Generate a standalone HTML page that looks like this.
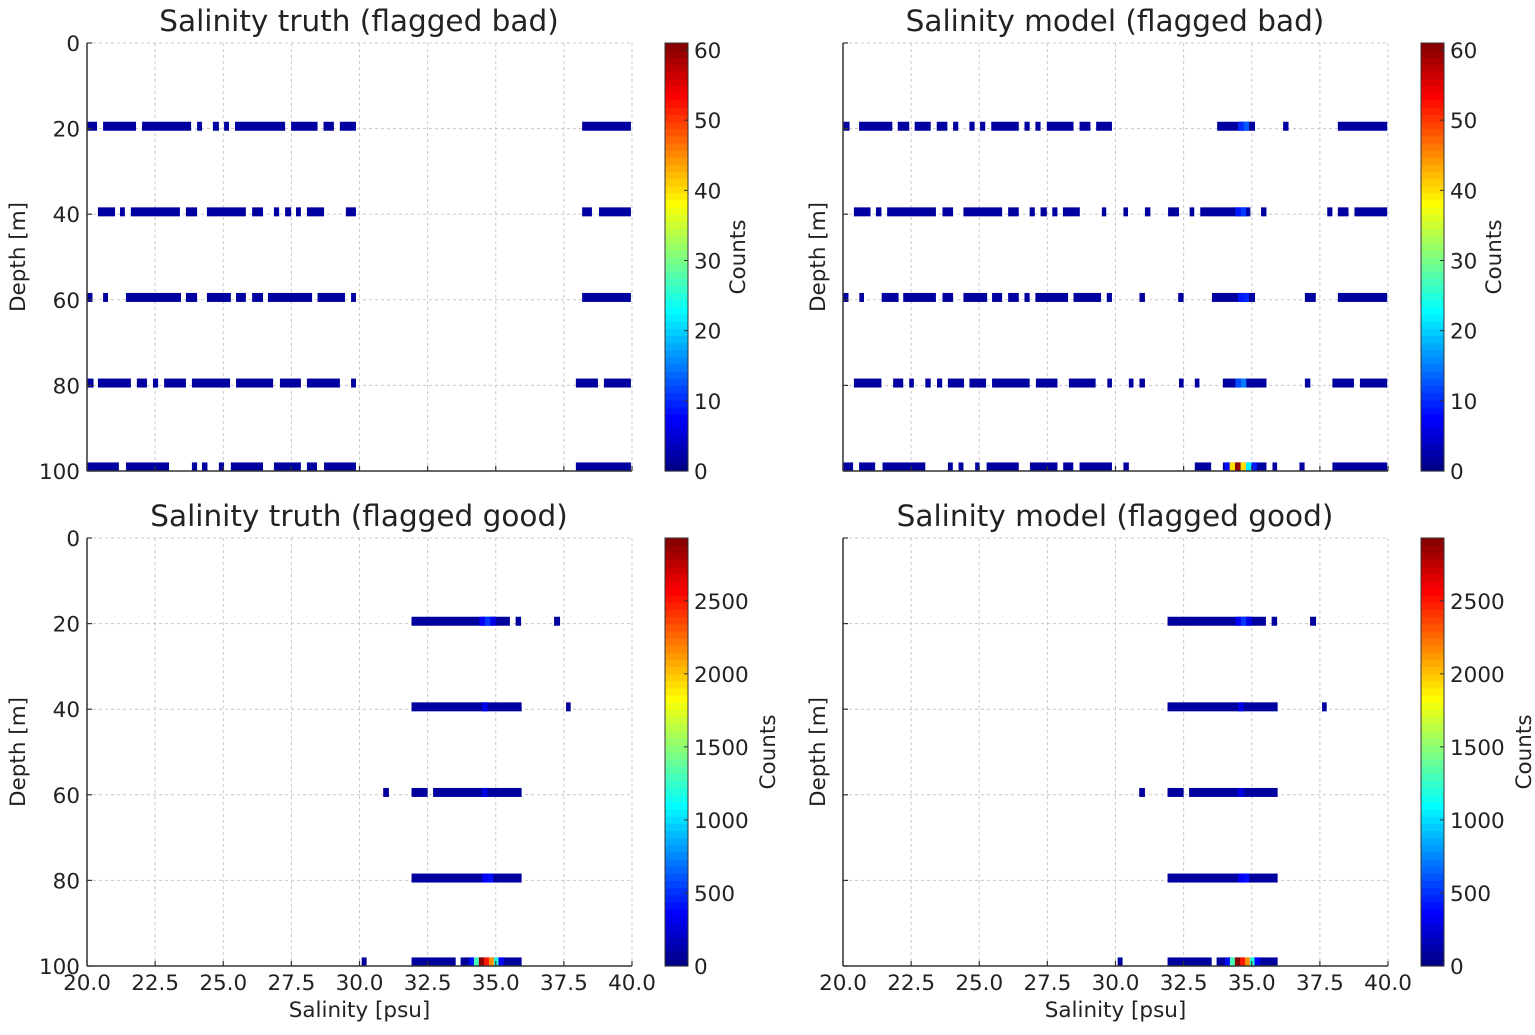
<!DOCTYPE html>
<html><head><meta charset="utf-8"><style>
html,body{margin:0;padding:0;background:#fff;}
svg{display:block;font-family:"DejaVu Sans","Liberation Sans",sans-serif;fill:#222;}
</style></head><body>
<svg id="chart" width="1535" height="1035" viewBox="0 0 1535 1035" xmlns="http://www.w3.org/2000/svg"></svg>
<script>
// ---- data ----
const depths = [20, 40, 60, 80, 100];
const xTicks = [20.0, 22.5, 25.0, 27.5, 30.0, 32.5, 35.0, 37.5, 40.0];
const yTicks = [0, 20, 40, 60, 80, 100];
const cbTicksBad = [0, 10, 20, 30, 40, 50, 60];
const cbTicksGood = [0, 500, 1000, 1500, 2000, 2500];
const cbMaxBad = 61;
const cbMaxGood = 2930;
const baseBad = 2;
const baseGood = 90;

const truthBadSegs = [
  [[20.0,20.37],[20.59,21.8],[22.02,23.82],[24.04,24.22],[24.62,24.84],[25.03,25.21],[25.43,27.27],[27.49,28.46],[28.68,29.06],[29.28,29.87],[38.17,39.96]],
  [[20.40,21.03],[21.21,21.39],[21.61,23.41],[23.63,24.04],[24.40,25.83],[26.06,26.46],[26.86,27.05],[27.27,27.49],[27.67,27.85],[28.07,28.70],[29.50,29.87],[38.17,38.53],[38.79,39.96]],
  [[20.0,20.2],[20.59,20.77],[21.43,23.45],[23.63,24.04],[24.40,25.28],[25.47,25.83],[26.06,26.46],[26.64,28.26],[28.46,29.47],[29.69,29.87],[38.17,39.96]],
  [[20.0,20.24],[20.40,21.61],[21.83,22.20],[22.42,22.61],[22.83,23.63],[23.85,25.25],[25.47,26.83],[27.08,27.85],[28.07,29.28],[29.69,29.87],[37.94,38.75],[38.97,39.96]],
  [[20.0,21.17],[21.43,23.01],[23.85,24.04],[24.22,24.42],[24.84,25.03],[25.28,26.46],[26.86,27.85],[28.07,28.44],[28.70,29.87],[37.94,39.96]]
];
const modelBadSegs = [
  [[20.0,20.24],[20.59,21.81],[22.01,22.43],[22.63,23.22],[23.44,23.83],[24.04,24.23],[24.64,24.83],[25.03,25.22],[25.44,26.45],[26.66,26.85],[27.06,27.25],[27.48,28.46],[28.68,29.08],[29.29,29.87],[33.73,35.12],[36.15,36.35],[38.16,39.97]],
  [[20.4,21.01],[21.21,21.41],[21.62,23.41],[23.65,24.04],[24.42,25.84],[26.06,26.45],[26.85,27.04],[27.25,27.48],[27.68,27.87],[28.07,28.69],[29.5,29.66],[30.29,30.46],[31.08,31.28],[31.93,32.33],[32.72,32.89],[33.11,34.95],[35.34,35.54],[37.77,37.96],[38.16,38.55],[38.77,39.97]],
  [[20.0,20.2],[20.6,20.77],[21.42,22.04],[22.21,23.41],[23.65,24.04],[24.42,25.29],[25.47,25.84],[26.06,26.45],[26.66,26.85],[27.06,28.26],[28.46,29.47],[29.68,29.87],[30.88,31.08],[32.30,32.50],[33.54,35.12],[36.95,37.35],[38.16,39.97]],
  [[20.4,21.41],[21.84,22.21],[22.43,22.6],[23.02,23.22],[23.45,23.64],[23.85,24.44],[24.64,25.25],[25.47,26.85],[27.08,27.87],[28.29,29.27],[29.7,29.87],[30.49,30.66],[30.88,31.08],[32.33,32.5],[32.91,33.08],[33.94,35.54],[36.95,37.15],[37.96,38.75],[38.97,39.97]],
  [[20.0,20.37],[20.59,21.18],[21.45,23.02],[23.85,24.03],[24.24,24.42],[24.85,25.01],[25.27,26.45],[26.86,27.87],[28.08,28.45],[28.68,29.87],[30.29,30.49],[32.91,33.51],[33.94,35.54],[35.76,35.93],[36.75,36.94],[37.96,39.97]]
];
// hot cells: [salinity, depth, count]
const modelBadHot = [[34.6,20,10],[34.8,20,13],[34.5,40,9],[34.7,40,11],[34.6,60,9],[34.8,60,10],[34.5,80,12],[34.7,80,15],[34.1,100,8],[34.29,100,40],[34.49,100,60],[34.69,100,40],[34.89,100,22],[35.09,100,9]];
const truthBadHot = [];

const goodSegs = [
  [[31.91,35.52],[35.73,35.93],[37.14,37.36]],
  [[31.91,35.95],[37.58,37.75]],
  [[30.87,31.08],[31.91,32.5],[32.7,35.95]],
  [[31.91,35.95]],
  [[30.08,30.26],[31.91,33.53],[33.71,35.95]]
];
const goodHot = [[34.5,20,350],[34.7,20,520],[34.9,20,300],[34.6,40,300],[34.6,60,280],[34.6,80,350],[34.8,80,400],[34.12,100,400],[34.3,100,1300],[34.48,100,2900],[34.67,100,2500],[34.85,100,2150],[35.03,100,1200],[35.2,100,350]];

// ---- drawing ----
const svg = document.getElementById('chart');
const NS = 'http://www.w3.org/2000/svg';
function mk(tag, attrs, parent){ const e=document.createElementNS(NS,tag); for(const k in attrs) e.setAttribute(k,attrs[k]); (parent||svg).appendChild(e); return e; }
function jet(t){
  t=Math.max(0,Math.min(1,t));
  const c=v=>Math.round(255*Math.max(0,Math.min(1,v)));
  return 'rgb('+c(1.5-Math.abs(4*t-3))+','+c(1.5-Math.abs(4*t-2))+','+c(1.5-Math.abs(4*t-1))+')';
}
const PW=545, PH=428;
function rowTop(d){ return Math.min(d-1.6, 98); }
function rowBot(d){ return Math.min(d+0.5, 100); }
function drawPanel(p){
  const g = mk('g',{});
  
  
  const xs = v => p.ox + (v-20)/20*PW;
  const ys = v => p.oy + v/100*PH;
  xTicks.forEach(t=>{ const l=mk('line',{x1:xs(t),x2:xs(t),y1:p.oy,y2:p.oy+PH,stroke:'#c8c8c8','stroke-width':1,'stroke-dasharray':'3,3'},g);
      });
  yTicks.forEach(t=>{ const l=mk('line',{x1:p.ox,x2:p.ox+PW,y1:ys(t),y2:ys(t),stroke:'#c8c8c8','stroke-width':1,'stroke-dasharray':'3,3'},g);
      });
  p.segs.forEach((row,i)=>{
    const d=depths[i];
    row.forEach(s=>{
      const r=mk('rect',{x:xs(s[0]),y:ys(rowTop(d)),width:Math.max(2,xs(s[1])-xs(s[0])),height:ys(rowBot(d))-ys(rowTop(d)),fill:jet(p.base/p.max)},g);
       
    });
  });
  p.hot.forEach(h=>{
    const r=mk('rect',{x:xs(h[0]-0.1),y:ys(rowTop(h[1])),width:xs(h[0]+0.1)-xs(h[0]-0.1),height:ys(rowBot(h[1]))-ys(rowTop(h[1])),fill:jet(h[2]/p.max)},g);
     
  });
  const sl=mk('line',{x1:p.ox,x2:p.ox,y1:p.oy,y2:p.oy+PH,stroke:'#333','stroke-width':1.5},g);
   
  const sb=mk('line',{x1:p.ox,x2:p.ox+PW,y1:p.oy+PH,y2:p.oy+PH,stroke:'#333','stroke-width':1.5},g);
   
  yTicks.forEach(t=>{
    mk('line',{x1:p.ox,x2:p.ox+5,y1:ys(t),y2:ys(t),stroke:'#333','stroke-width':1.2},g);
    if(p.yLabels){
      const tx=mk('text',{x:p.ox-7,y:ys(t)+8,'text-anchor':'end','font-size':21.5},g);
      tx.textContent=t;  
    }
  });
  xTicks.forEach(t=>{
    mk('line',{x1:xs(t),x2:xs(t),y1:p.oy+PH,y2:p.oy+PH-5,stroke:'#333','stroke-width':1.2},g);
    if(p.xLabels){
      const tx=mk('text',{x:xs(t),y:p.oy+PH+24,'text-anchor':'middle','font-size':21.5},g);
      tx.textContent=t.toFixed(1);  
    }
  });
  const ti=mk('text',{x:p.tx,y:p.oy-12,'text-anchor':'middle','font-size':29.5},g);
  ti.textContent=p.title;  
  const yl=mk('text',{x:0,y:0,'text-anchor':'middle','font-size':21.5,transform:'translate('+(p.ox-p.ylOff)+','+(p.oy+PH/2)+') rotate(-90)'},g);
  yl.textContent='Depth [m]';  
  if(p.xLabels){
    const xl=mk('text',{x:p.ox+PW/2,y:p.oy+PH+51,'text-anchor':'middle','font-size':21.5},g);
    xl.textContent='Salinity [psu]';  
  }
  const cx=p.ox+578, cw=23;
  const cg=mk('g',{},g);
   
  const N=60;
  for(let i=0;i<N;i++){
    mk('rect',{x:cx,y:p.oy+PH-(i+1)*PH/N,width:cw,height:PH/N+0.6,fill:jet((i+0.5)/N)},cg);
  }
  mk('rect',{x:cx,y:p.oy,width:cw,height:PH,fill:'none',stroke:'#333','stroke-width':1},cg);
  const cys=v=>p.oy+PH-v/p.max*PH;
  p.cbTicks.forEach(t=>{
    mk('line',{x1:cx+cw-4,x2:cx+cw,y1:cys(t),y2:cys(t),stroke:'#333'},cg);
    const tx=mk('text',{x:cx+cw+6,y:cys(t)+8,'font-size':21.5},cg);
    tx.textContent=t;  
  });
  const cl=mk('text',{x:0,y:0,'text-anchor':'middle','font-size':21.5,transform:'translate('+(cx+p.cbLabOff)+','+(p.oy+PH/2)+') rotate(-90)'},cg);
  cl.textContent='Counts';  
}
drawPanel({name:'panel-truth-bad',ox:87,oy:43,tx:359,title:'Salinity truth (flagged bad)',segs:truthBadSegs,hot:truthBadHot,base:baseBad,max:cbMaxBad,cbTicks:cbTicksBad,yLabels:true,xLabels:false,ylOff:62,cbLabOff:80,});
drawPanel({name:'panel-model-bad',ox:843,oy:43,tx:1115,title:'Salinity model (flagged bad)',segs:modelBadSegs,hot:modelBadHot,base:baseBad,max:cbMaxBad,cbTicks:cbTicksBad,yLabels:false,xLabels:false,ylOff:18,cbLabOff:80});
drawPanel({name:'panel-truth-good',ox:87,oy:538,tx:359,title:'Salinity truth (flagged good)',segs:goodSegs,hot:goodHot,base:baseGood,max:cbMaxGood,cbTicks:cbTicksGood,yLabels:true,xLabels:true,ylOff:62,cbLabOff:110});
drawPanel({name:'panel-model-good',ox:843,oy:538,tx:1115,title:'Salinity model (flagged good)',segs:goodSegs,hot:goodHot,base:baseGood,max:cbMaxGood,cbTicks:cbTicksGood,yLabels:false,xLabels:true,ylOff:18,cbLabOff:110});
</script>
</body></html>
